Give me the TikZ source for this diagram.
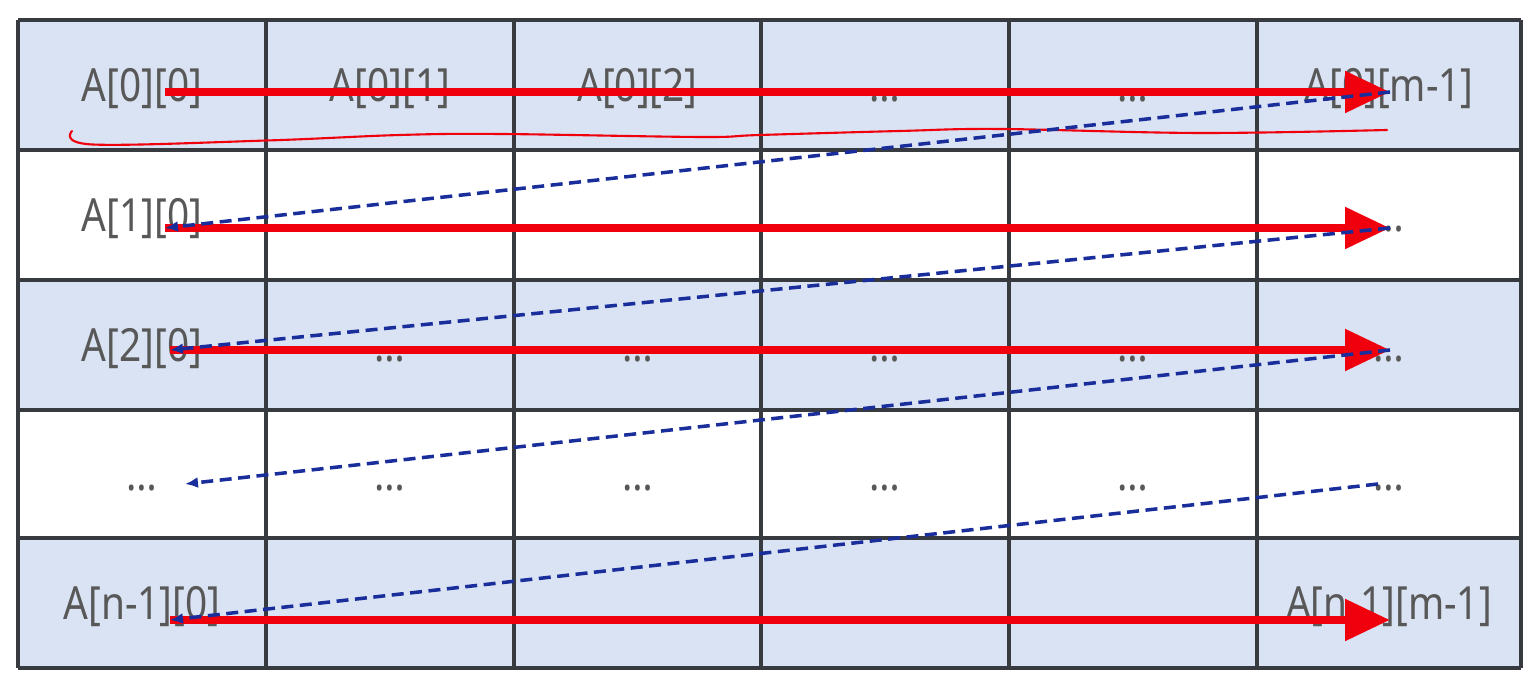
\documentclass[tikz,border=0pt]{standalone}
\usepackage{fontspec}
\newfontfamily\cellfont[FakeStretch=0.85]{Noto Sans}
\usetikzlibrary{arrows.meta}

% Custom Colors based on the image
\definecolor{cellblue}{RGB}{218,227,243}
\definecolor{gridgray}{RGB}{55,58,62}
\definecolor{labelgray}{RGB}{88,88,88}
\definecolor{walkred}{RGB}{240,0,12}
\definecolor{jumpblue}{RGB}{25,45,155}

\begin{document}
\begin{tikzpicture}[
    % Global Styles
    font=\cellfont\fontsize{26}{30}\selectfont,
    % Cell text
    celltext/.style={text=labelgray, inner sep=0pt, text height=0.66cm, text depth=0cm},
    % Table lines
    gridline/.style={draw=gridgray, line width=2.1pt},
    % Row-wise walk (red) and jump to next row (blue)
    walk/.style={draw=walkred, line width=4.8pt, -{Triangle[length=0.9cm, width=0.8cm]}},
    jump/.style={draw=jumpblue, line width=2pt, dash pattern=on 0.24cm off 0.13cm,
        -{Latex[length=0.26cm, width=0.22cm]}},
    scribble/.style={draw=walkred, line width=1.2pt, line cap=round}
]
    \useasboundingbox (0,0) rectangle (30.62,13.84);

    % --- Row shading ---
    \fill[cellblue] (0.36,10.84) rectangle (30.42,13.44);
    \fill[cellblue] (0.36,5.64) rectangle (30.42,8.24);
    \fill[cellblue] (0.36,0.48) rectangle (30.42,3.08);

    % --- Grid ---
    \foreach \y in {13.44, 10.84, 8.24, 5.64, 3.08, 0.48}
        \draw[gridline] (0.36,\y) -- (30.42,\y);
    \foreach \x in {0.36, 5.32, 10.28, 15.22, 20.18, 25.14, 30.42}
        \draw[gridline] (\x,0.48) -- (\x,13.44);

    % --- Row 0 ---
    \node[celltext] (a00) at (2.84,12.14) {A[0][0]};
    \node[celltext] (a01) at (7.80,12.14) {A[0][1]};
    \node[celltext] (a02) at (12.75,12.14) {A[0][2]};
    \node[celltext] (a03) at (17.70,12.14) {\dots};
    \node[celltext] (a04) at (22.66,12.14) {\dots};
    \node[celltext] (a05) at (27.78,12.14) {A[0][m-1]};

    % --- Row 1 ---
    \node[celltext] (a10) at (2.84,9.54) {A[1][0]};
    \node[celltext] (a15) at (27.78,9.54) {\dots};

    % --- Row 2 ---
    \node[celltext] (a20) at (2.84,6.94) {A[2][0]};
    \foreach \c/\x in {1/7.80, 2/12.75, 3/17.70, 4/22.66, 5/27.78}
        \node[celltext] (a2\c) at (\x,6.94) {\dots};

    % --- Row 3 ---
    \foreach \c/\x in {0/2.84, 1/7.80, 2/12.75, 3/17.70, 4/22.66, 5/27.78}
        \node[celltext] (a3\c) at (\x,4.36) {\dots};

    % --- Row n-1 ---
    \node[celltext] (a40) at (2.84,1.78) {A[n-1][0]};
    \node[celltext] (a45) at (27.78,1.78) {A[n-1][m-1]};

    % --- Hand-drawn underline of row 0 ---
    \draw[scribble] plot[smooth, tension=0.6] coordinates {
        (1.44,11.22) (1.85,10.95) (5.34,11.03) (8.0,11.14) (10.0,11.16)
        (14.0,11.10) (15.2,11.14) (18.0,11.22) (20.0,11.26) (24.0,11.18) (27.74,11.24)};

    % --- Start / end points of each row ---
    \coordinate (s0) at (3.3,12.0);   \coordinate (e0) at (27.8,12.0);
    \coordinate (s1) at (3.3,9.28);   \coordinate (e1) at (27.8,9.28);
    \coordinate (s2) at (3.4,6.84);   \coordinate (e2) at (27.8,6.84);
    \coordinate (s3) at (3.7,4.16);   \coordinate (e3) at (27.56,4.16);
    \coordinate (s4) at (3.4,1.44);   \coordinate (e4) at (27.8,1.44);

    % --- Walk along rows ---
    \draw[walk] (s0) -- (e0);
    \draw[walk] (s1) -- (e1);
    \draw[walk] (s2) -- (e2);
    \draw[walk] (s4) -- (e4);

    % --- Jump back to next row ---
    \draw[jump] (e0) -- (s1);
    \draw[jump] (e1) -- (s2);
    \draw[jump] (e2) -- (s3);
    \draw[jump] (e3) -- (s4);

\end{tikzpicture}
\end{document}
